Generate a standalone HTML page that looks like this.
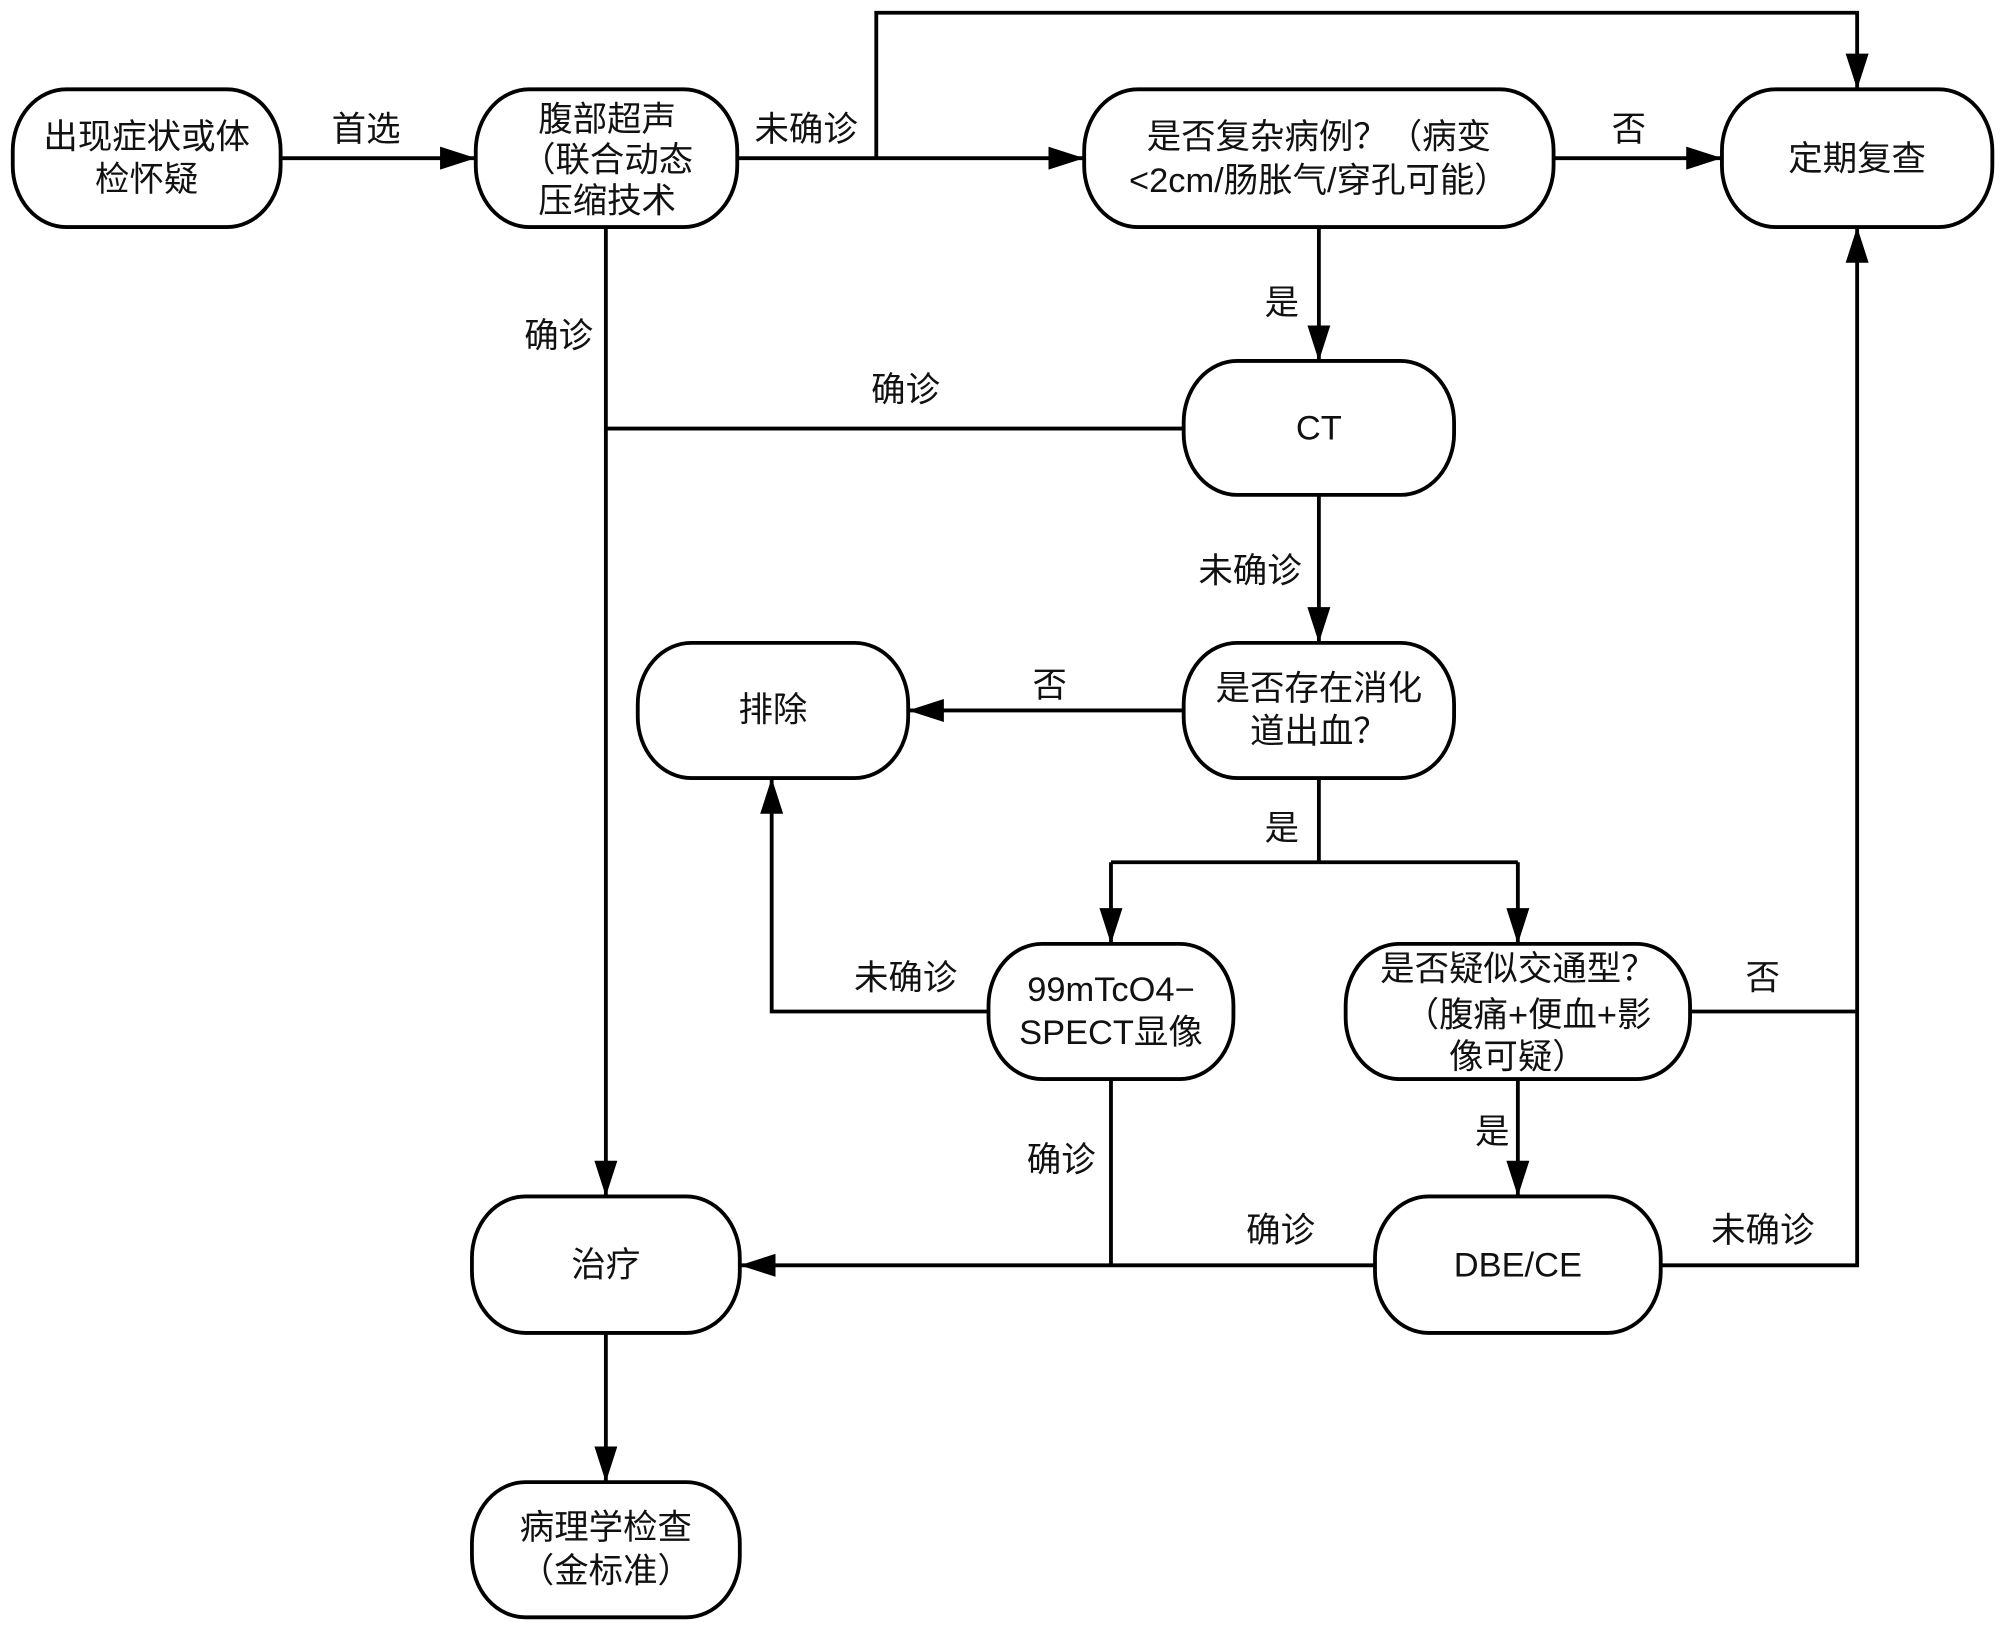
<!DOCTYPE html>
<html><head><meta charset="utf-8"><style>
html,body{margin:0;padding:0;background:#fff}
svg{display:block}
text{font-family:"Liberation Sans","Noto Sans CJK SC",sans-serif;font-size:27px;fill:#111;text-anchor:middle;dominant-baseline:central}
</style></head><body>
<svg width="2000" height="1625" viewBox="0 0 1568 1274" xmlns="http://www.w3.org/2000/svg">
<defs><marker id="a" markerWidth="10" markerHeight="10" refX="9" refY="5" orient="auto" markerUnits="userSpaceOnUse" viewBox="0 0 10 10"><path d="M0,0 L10,5 L0,10 z" fill="#000" transform="scale(1)"/></marker>
<marker id="b" markerWidth="28" markerHeight="18" refX="27" refY="9" orient="auto" markerUnits="userSpaceOnUse"><path d="M0,0 L28,9 L0,18 z" fill="#000"/></marker></defs>
<g fill="#fff" stroke="#000" stroke-width="3">
<rect x="10" y="70" width="210" height="108" rx="42" ry="48"/>
<rect x="373" y="70" width="205" height="108" rx="42" ry="48"/>
<rect x="850" y="70" width="368" height="108" rx="42" ry="48"/>
<rect x="1350" y="70" width="212" height="108" rx="42" ry="48"/>
<rect x="928" y="283" width="212" height="105" rx="42" ry="48"/>
<rect x="500" y="504" width="212" height="106" rx="42" ry="48"/>
<rect x="928" y="504" width="212" height="106" rx="42" ry="48"/>
<rect x="775" y="740" width="192" height="106" rx="42" ry="48"/>
<rect x="1055" y="740" width="270" height="106" rx="42" ry="48"/>
<rect x="370" y="938" width="210" height="107" rx="42" ry="48"/>
<rect x="1078" y="938" width="224" height="107" rx="42" ry="48"/>
<rect x="370" y="1162" width="210" height="106" rx="42" ry="48"/>
</g>
<g fill="none" stroke="#000" stroke-width="3">
<path d="M220,124 H372" marker-end="url(#b)"/>
<path d="M578,124 H849" marker-end="url(#b)"/>
<path d="M687,124 V10 H1456 V69" marker-end="url(#b)"/>
<path d="M1218,124 H1349" marker-end="url(#b)"/>
<path d="M1034,178 V282" marker-end="url(#b)"/>
<path d="M475,178 V937" marker-end="url(#b)"/>
<path d="M928,336 H475"/>
<path d="M1034,388 V503" marker-end="url(#b)"/>
<path d="M928,557 H713" marker-end="url(#b)"/>
<path d="M1034,610 V676"/>
<path d="M871,676 H1190"/>
<path d="M871,676 V739" marker-end="url(#b)"/>
<path d="M1190,676 V739" marker-end="url(#b)"/>
<path d="M775,793 H605 V611" marker-end="url(#b)"/>
<path d="M871,846 V992"/>
<path d="M1078,992 H581" marker-end="url(#b)"/>
<path d="M1325,793 H1456"/>
<path d="M1302,992 H1456 V179" marker-end="url(#b)"/>
<path d="M1190,846 V937" marker-end="url(#b)"/>
<path d="M475,1045 V1161" marker-end="url(#b)"/>
</g>
<text x="115" y="108">出现症状或体</text>
<text x="115" y="141">检怀疑</text>
<text x="476" y="94">腹部超声</text>
<text x="476" y="126">（联合动态</text>
<text x="476" y="158">压缩技术</text>
<text x="1034" y="108">是否复杂病例？（病变</text>
<text x="1034" y="142">&lt;2cm/肠胀气/穿孔可能）</text>
<text x="1456" y="125">定期复查</text>
<text x="1034" y="336">CT</text>
<text x="606" y="557">排除</text>
<text x="1034" y="540">是否存在消化</text>
<text x="1034" y="574">道出血？</text>
<text x="871" y="776">99mTcO4−</text>
<text x="871" y="810">SPECT显像</text>
<text x="1190" y="760">是否疑似交通型？</text>
<text x="1198" y="796">（腹痛+便血+影</text>
<text x="1190" y="829">像可疑）</text>
<text x="475" y="992">治疗</text>
<text x="1190" y="992">DBE/CE</text>
<text x="475" y="1198">病理学检查</text>
<text x="475" y="1232">（金标准）</text>
<text x="287" y="102">首选</text>
<text x="632" y="102">未确诊</text>
<text x="1277" y="102">否</text>
<text x="1005" y="238">是</text>
<text x="438" y="264">确诊</text>
<text x="710" y="306">确诊</text>
<text x="980" y="448">未确诊</text>
<text x="823" y="538">否</text>
<text x="1005" y="650">是</text>
<text x="710" y="767">未确诊</text>
<text x="832" y="910">确诊</text>
<text x="1004" y="965">确诊</text>
<text x="1382" y="767">否</text>
<text x="1382" y="965">未确诊</text>
<text x="1170" y="888">是</text>
</svg>
</body></html>
